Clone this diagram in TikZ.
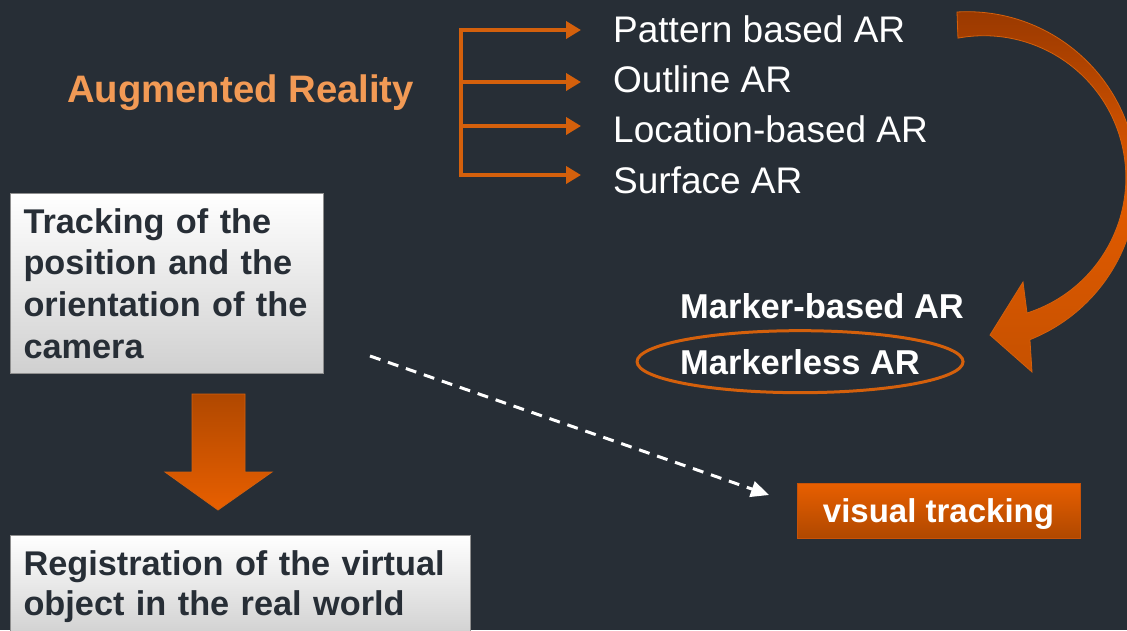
\documentclass[tikz,border=0pt]{standalone}
\usepackage{fontspec}
\setmainfont{Liberation Sans}
\usetikzlibrary{arrows.meta,positioning}

\definecolor{slate}{HTML}{272E36}
\definecolor{arorange}{HTML}{D4600C}
\definecolor{peach}{HTML}{F29A55}
\definecolor{boxgray}{HTML}{D0D0D0}
\definecolor{boxedge}{HTML}{8F8F8F}
\definecolor{rust}{HTML}{983800}
\definecolor{ember}{HTML}{C65100}
\definecolor{flame}{HTML}{E35B00}
\definecolor{burnt}{HTML}{B04800}
\definecolor{blaze}{HTML}{E85F00}
\definecolor{vtedge}{HTML}{C85208}

\begin{document}
\begin{tikzpicture}[x=1pt,y=-1pt,
  box/.style={draw=boxedge,line width=1pt,top color=white,bottom color=boxgray,anchor=north west,
    text=slate,font=\fontsize{34.3}{41.7}\selectfont\bfseries,align=left,inner xsep=13pt,inner ysep=0pt},
  item/.style={text=white,font=\fontsize{37}{40}\selectfont,inner sep=0pt,anchor=base west},
  kind/.style={text=white,font=\fontsize{34.5}{38}\selectfont\bfseries,inner sep=0pt,anchor=base west},
  branch/.style={draw=arorange,line width=4.5pt,-{Triangle[length=15pt,width=17pt]},shorten >=32pt}]
  \fill[slate] (0,0) rectangle (1127,630);
  \clip (0,0) rectangle (1127,630);

  \node[anchor=base west,inner sep=0pt,text=peach,font=\fontsize{38.3}{40}\selectfont\bfseries] (ar) at (67,102) {Augmented Reality};

  % the four kinds, with the bracket feeding them
  \node[item] (pat) at (613,42) {Pattern based AR};
  \node[item,below=50pt of pat.base west,anchor=base west] (out) {Outline AR};
  \node[item,below=50pt of out.base west,anchor=base west] (loc) {Location-based AR};
  \node[item,below=51pt of loc.base west,anchor=base west] (sur) {Surface AR};
  \coordinate (b1) at (461,30);
  \coordinate (b2) at (461,82);
  \coordinate (b3) at (461,126);
  \coordinate (b4) at (461,175);
  \draw[arorange,line width=4.5pt,line cap=rect] (b1) -- (b4);
  \draw[branch] (b1) -- (b1 -| pat.west);
  \draw[branch] (b2) -- (b2 -| out.west);
  \draw[branch] (b3) -- (b3 -| loc.west);
  \draw[branch] (b4) -- (b4 -| sur.west);

  % big bent arrow down the right side
  \path[draw=arorange,line width=0.8pt,top color=rust,bottom color=ember,middle color=flame]
    (957,12) arc[start angle=-93.4,end angle=68.3,radius=170] -- (1032,372) -- (990,335) -- (1023,282)
    -- (1027,313) arc[start angle=72.3,end angle=-100.5,radius=142] -- cycle;

  \node[kind] (mb) at (680,318) {Marker-based AR};
  \node[kind,below=56pt of mb.base west,anchor=base west] (ml) {Markerless AR};
  \draw[arorange,line width=3pt] (ml.center) ellipse[x radius=163,y radius=31];

  \node[box,minimum width=313pt,minimum height=180pt,text width=287pt] (track) at (10,193)
    {Tracking of the\\position and the\\orientation of the\\camera};
  \node[box,minimum width=460pt,minimum height=102pt,text width=434pt,font=\fontsize{34.3}{40}\selectfont\bfseries] (reg) at (10,535)
    {Registration of the virtual\\object in the real world};

  \path[draw=arorange,line width=0.8pt,top color=burnt,bottom color=blaze]
    (192,394) -- (245,394) -- (245,472) -- (272,472) -- (218,510) -- (165,472) -- (192,472) -- cycle;

  \node[draw=vtedge,line width=1pt,top color=blaze,bottom color=burnt,
    minimum width=283pt,minimum height=55pt,inner sep=0pt,text depth=0pt,text=white,
    font=\fontsize{33}{36}\selectfont\bfseries] (vt) at (938.5,510.5) {visual tracking};

  \coordinate (from) at (370,356);
  \coordinate (to) at (769,495);
  \draw[white,line width=3pt,dash pattern=on 11pt off 8pt,-{Triangle[length=18pt,width=16pt]}] (from) -- (to);
\end{tikzpicture}
\end{document}
